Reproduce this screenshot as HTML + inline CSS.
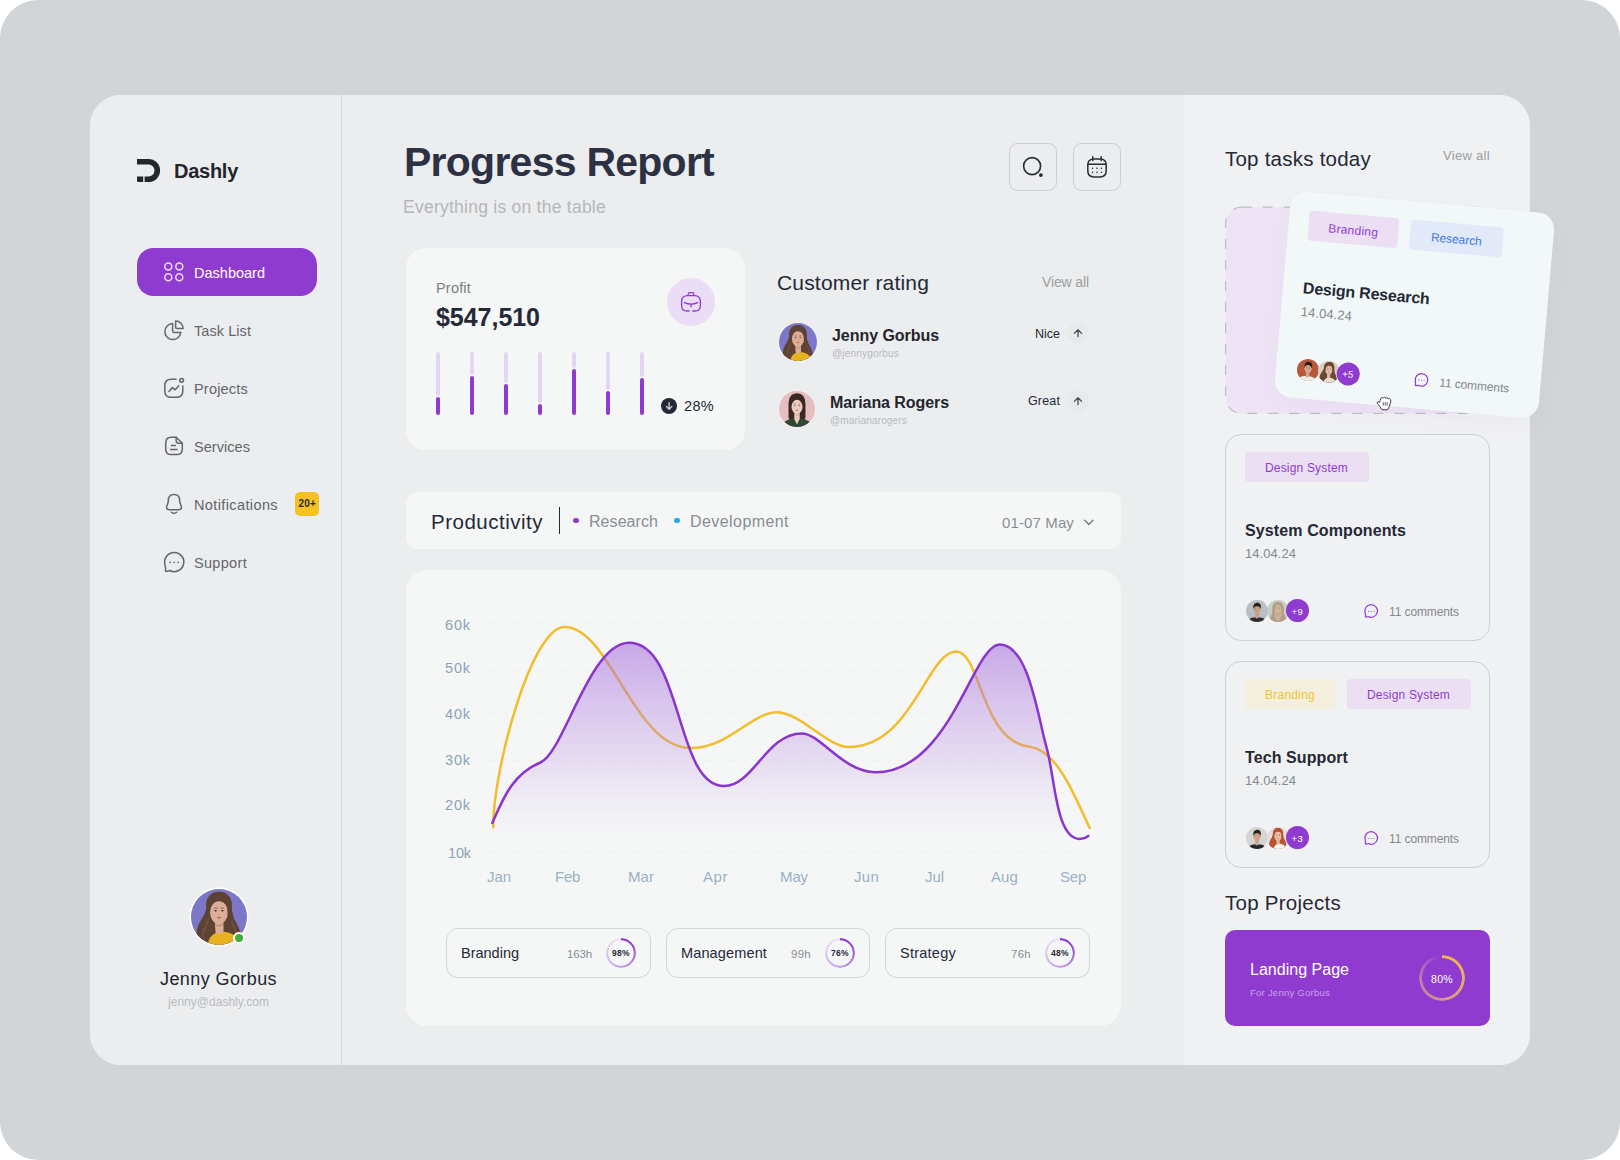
<!DOCTYPE html>
<html lang="en"><head><meta charset="utf-8"><title>Dashly - Progress Report</title>
<style>
*{box-sizing:border-box;margin:0;padding:0}
html,body{width:1620px;height:1160px;overflow:hidden;background:#fff}
body{font-family:"Liberation Sans",sans-serif;position:relative}
.a{position:absolute}
.t{position:absolute;white-space:nowrap;display:block}
#bg{left:0;top:0;width:1620px;height:1160px;border-radius:38px;background:#d2d5d8}
#panel{left:90px;top:95px;width:1440px;height:970px;border-radius:31px;background:#ecedef;overflow:hidden}
#side{left:0;top:0;width:252px;height:970px;background:#ecedef;border-right:1px solid #d8dadc}
#right{left:1094px;top:0;width:346px;height:970px;background:#f0f1f3}
.card{background:#f5f7f7}
.btn{width:47.6px;height:47.6px;border:1.2px solid #cbcdcf;border-radius:8.5px;background:#ecedef}
.pill{height:50px;width:205px;border:1px solid #d4d6d8;border-radius:12px;background:#f5f7f7}
.tcard{width:265px;height:207px;border:1px solid #cdcfd2;border-radius:16px}
.tag{height:30px;border-radius:4px}
.av{border-radius:50%;overflow:hidden}
</style></head>
<body>

<div class="a" id="bg"></div>
<div class="a" id="panel">
  <div class="a" id="side"></div>
  <div class="a" id="right"></div>
</div>

<!-- sidebar -->
<div class="a" style="left:137px;top:248px;width:180px;height:48px;border-radius:16.5px;background:#8f3bcf"></div>
<div class="a" style="left:295px;top:492px;width:24px;height:24px;border-radius:5px;background:#f5c123"></div>

<!-- header buttons -->
<div class="a btn" style="left:1009.2px;top:143.1px"></div>
<div class="a btn" style="left:1073.2px;top:143.1px"></div>

<!-- profit card -->
<div class="a card" style="left:406px;top:247.5px;width:339px;height:202.5px;border-radius:20px"></div>
<div class="a" style="left:667px;top:278px;width:48px;height:48px;border-radius:50%;background:#ecddf6"></div>
<div class="a" style="left:661px;top:398px;width:16px;height:16px;border-radius:50%;background:#252836"></div>

<!-- rating arrows -->
<div class="a" style="left:1067px;top:322px;width:22px;height:22px;border-radius:50%;background:#e7e9eb"></div>
<div class="a" style="left:1067px;top:390px;width:22px;height:22px;border-radius:50%;background:#e7e9eb"></div>

<!-- productivity bar -->
<div class="a card" style="left:406px;top:492px;width:715px;height:56.5px;border-radius:12px"></div>
<div class="a" style="left:558.5px;top:507px;width:1.5px;height:27px;background:#252836"></div>
<div class="a" style="left:573px;top:517.5px;width:5.5px;height:5.5px;border-radius:50%;background:#8f3bcf"></div>
<div class="a" style="left:674px;top:517.5px;width:5.5px;height:5.5px;border-radius:50%;background:#2aa9dc"></div>

<!-- chart card -->
<div class="a card" style="left:406px;top:569.5px;width:715px;height:456px;border-radius:21px"></div>
<div class="a pill" style="left:446.2px;top:928px;width:204.5px"></div>
<div class="a pill" style="left:666.2px;top:928px;width:203.6px"></div>
<div class="a pill" style="left:885.4px;top:928px;width:204.6px"></div>

<!-- right: task cards -->
<svg class="a" style="left:1220px;top:202px" width="275" height="216" viewBox="0 0 275 216"><rect x="5.6" y="5.2" width="263.8" height="206.2" rx="16" fill="#eee4f6" stroke="#bcbec2" stroke-width="1.2" stroke-dasharray="10 11"/></svg>
<div class="a tcard" style="left:1225px;top:434px"></div>
<div class="a tag" style="left:1245px;top:452px;width:124px;background:#eadff3"></div>
<div class="a tcard" style="left:1225px;top:661px"></div>
<div class="a tag" style="left:1245px;top:679px;width:90px;background:#f3efdc"></div>
<div class="a tag" style="left:1347px;top:679px;width:124px;background:#eadff3"></div>

<!-- top projects card -->
<div class="a" style="left:1225px;top:930px;width:265px;height:95.6px;border-radius:10px;background:#8f3bcf"></div>

<div class="a" style="left:436px;top:352px;width:4px;height:44px;border-radius:2px;background:#e4d5f3"></div>
<div class="a" style="left:436px;top:397px;width:4px;height:17.5px;border-radius:2px;background:#8f3bcf"></div>
<div class="a" style="left:470px;top:352px;width:4px;height:23px;border-radius:2px;background:#e4d5f3"></div>
<div class="a" style="left:470px;top:376px;width:4px;height:38.5px;border-radius:2px;background:#8f3bcf"></div>
<div class="a" style="left:504px;top:352px;width:4px;height:31px;border-radius:2px;background:#e4d5f3"></div>
<div class="a" style="left:504px;top:384px;width:4px;height:30.5px;border-radius:2px;background:#8f3bcf"></div>
<div class="a" style="left:538px;top:352px;width:4px;height:51px;border-radius:2px;background:#e4d5f3"></div>
<div class="a" style="left:538px;top:404px;width:4px;height:10.5px;border-radius:2px;background:#8f3bcf"></div>
<div class="a" style="left:572px;top:352px;width:4px;height:16px;border-radius:2px;background:#e4d5f3"></div>
<div class="a" style="left:572px;top:369px;width:4px;height:45.5px;border-radius:2px;background:#8f3bcf"></div>
<div class="a" style="left:606px;top:352px;width:4px;height:38px;border-radius:2px;background:#e4d5f3"></div>
<div class="a" style="left:606px;top:391px;width:4px;height:23.5px;border-radius:2px;background:#8f3bcf"></div>
<div class="a" style="left:640px;top:352px;width:4px;height:25px;border-radius:2px;background:#e4d5f3"></div>
<div class="a" style="left:640px;top:378px;width:4px;height:36.5px;border-radius:2px;background:#8f3bcf"></div>
<svg class="a" style="left:0;top:0" width="1620" height="1160" viewBox="0 0 1620 1160">
<defs><linearGradient id="ga" x1="0" y1="640" x2="0" y2="832" gradientUnits="userSpaceOnUse">
<stop offset="0" stop-color="#a56bdb" stop-opacity=".58"/><stop offset=".55" stop-color="#b888e2" stop-opacity=".3"/><stop offset="1" stop-color="#c9a6ea" stop-opacity="0.02"/></linearGradient>
<clipPath id="ca"><rect x="480" y="600" width="620" height="232"/></clipPath></defs>
<g stroke="#eaeced" stroke-width="1" stroke-dasharray="5 7"><line x1="490" x2="1086" y1="623.8" y2="623.8"/><line x1="490" x2="1086" y1="670" y2="670"/><line x1="490" x2="1086" y1="714" y2="714"/><line x1="490" x2="1086" y1="760.3" y2="760.3"/><line x1="490" x2="1086" y1="806.3" y2="806.3"/><line x1="490" x2="1086" y1="852.5" y2="852.5"/></g>
<path d="M493.3,827.2 C492.3,773.9 530.8,626.9 564.6,626.9 C609.8,626.9 633.7,748.1 690.8,748.1 C728.7,748.1 751.9,712.2 776.6,712.2 C799.7,712.2 828.0,747.0 848.3,747.0 C912.1,747.0 927.0,651.5 956.2,651.5 C980.6,651.5 980.8,740.7 1029.4,746.8 C1058.1,750.4 1074.9,797.3 1089.7,828.0" fill="none" stroke="#f2bd2c" stroke-width="2.5" stroke-linecap="round" stroke-linejoin="round"/>
<path d="M492.3,823.0 C501.9,802.0 511.4,774.0 540.5,762.5 C563.6,753.2 589.7,642.8 628.9,642.8 C682.7,642.8 674.8,786.1 724.3,786.1 C752.8,786.1 767.0,733.4 801.5,733.4 C821.0,733.4 842.5,772.2 875.9,772.2 C950.2,772.2 973.0,644.5 999.7,644.5 C1028.8,644.5 1037.8,716.8 1046.7,748.1 C1054.9,776.6 1055.8,838.9 1079.6,838.9 C1083.6,838.9 1086.3,837.6 1088.3,835.9 L1088.3,850 L492.3,850Z" fill="url(#ga)" clip-path="url(#ca)"/>
<path d="M492.3,823.0 C501.9,802.0 511.4,774.0 540.5,762.5 C563.6,753.2 589.7,642.8 628.9,642.8 C682.7,642.8 674.8,786.1 724.3,786.1 C752.8,786.1 767.0,733.4 801.5,733.4 C821.0,733.4 842.5,772.2 875.9,772.2 C950.2,772.2 973.0,644.5 999.7,644.5 C1028.8,644.5 1037.8,716.8 1046.7,748.1 C1054.9,776.6 1055.8,838.9 1079.6,838.9 C1083.6,838.9 1086.3,837.6 1088.3,835.9" fill="none" stroke="#8a35cc" stroke-width="2.5" stroke-linecap="round" stroke-linejoin="round"/>
</svg>
<div class="a" style="left:606.0px;top:938.0px;width:30px;height:30px;border-radius:50%;background:conic-gradient(from 0deg,#8c38cc 0deg,#9446d1 50deg,#b585df 130deg,#cdb0ea 215deg,#e2d3f1 295deg,#efe8f6 360deg);-webkit-mask:radial-gradient(circle closest-side,transparent 12.3px,#000 13.100000000000001px);mask:radial-gradient(circle closest-side,transparent 12.3px,#000 13.100000000000001px)"></div>
<div class="a" style="left:825.0px;top:938.0px;width:30px;height:30px;border-radius:50%;background:conic-gradient(from 0deg,#8c38cc 0deg,#9446d1 50deg,#b585df 130deg,#cdb0ea 215deg,#e2d3f1 295deg,#efe8f6 360deg);-webkit-mask:radial-gradient(circle closest-side,transparent 12.3px,#000 13.100000000000001px);mask:radial-gradient(circle closest-side,transparent 12.3px,#000 13.100000000000001px)"></div>
<div class="a" style="left:1045.0px;top:938.0px;width:30px;height:30px;border-radius:50%;background:conic-gradient(from 0deg,#8c38cc 0deg,#9446d1 50deg,#b585df 130deg,#cdb0ea 215deg,#e2d3f1 295deg,#efe8f6 360deg);-webkit-mask:radial-gradient(circle closest-side,transparent 12.3px,#000 13.100000000000001px);mask:radial-gradient(circle closest-side,transparent 12.3px,#000 13.100000000000001px)"></div>
<div class="a" style="left:1419.0px;top:955.0px;width:46px;height:46px;border-radius:50%;background:conic-gradient(from 0deg,#f2bb45 0deg,#ebb060 70deg,#dc9c80 150deg,#cf8c93 200deg,#c07fae 260deg,#a55cc8 320deg,#8f3bcf 352deg,#8f3bcf 360deg);-webkit-mask:radial-gradient(circle closest-side,transparent 19.5px,#000 20.3px);mask:radial-gradient(circle closest-side,transparent 19.5px,#000 20.3px)"></div>
<svg class="a" style="left:0;top:0" width="1620" height="1160" viewBox="0 0 1620 1160"><path d="M137,161.8 H148.6 A8.7,8.7 0 0 1 148.6,179.2 H144.6" fill="none" stroke="#25272d" stroke-width="5.6"/>
<path d="M137,176.4 H143.2 V182 H138.2 Q137,182 137,180.8Z" fill="#25272d"/>
<circle cx="168.3" cy="266.6" r="3.5" fill="none" stroke="#f1dcff" stroke-width="1.5"/>
<circle cx="168.3" cy="277.2" r="3.5" fill="none" stroke="#f1dcff" stroke-width="1.5"/>
<circle cx="179.3" cy="266.6" r="3.5" fill="none" stroke="#f1dcff" stroke-width="1.5"/>
<circle cx="179.3" cy="277.2" r="3.5" fill="none" stroke="#f1dcff" stroke-width="1.5"/>
<g fill="none" stroke="#63666b" stroke-width="1.5" stroke-linecap="round" stroke-linejoin="round"><path d="M172.6,323.6 A8,8 0 1 0 180.8,332.6 H174.2 Q172.6,332.6 172.6,331 Z"/><path d="M175.6,321 A7.6,7.6 0 0 1 183.2,328.6 H177.2 Q175.6,328.6 175.6,327 Z"/><path d="M176,379.3 H171.2 Q164.8,379.3 164.8,385.7 V390.9 Q164.8,397.3 171.2,397.3 H176.4 Q182.8,397.3 182.8,390.9 V386"/><circle cx="181.6" cy="380.3" r="1.9"/><path d="M169,391.4 L172.3,387.6 L175.2,389.8 L178.8,385.8"/><path d="M176.2,437.2 H171.4 Q165.7,437.2 165.7,442.9 V448.9 Q165.7,454.6 171.4,454.6 H176.6 Q182.3,454.6 182.3,448.9 V443.3 Z"/><path d="M176.2,437.2 V440.8 Q176.2,443.3 178.7,443.3 H182.3"/><path d="M171.4,445.5 H175.4 M170.6,449.6 H177"/><path d="M174,494.6 C169.6,494.6 168.3,498 168.3,500.8 C168.3,504.2 166.5,505.4 166.5,507.3 C166.5,508.9 167.8,509.7 169.4,509.7 H178.6 C180.2,509.7 181.5,508.9 181.5,507.3 C181.5,505.4 179.7,504.2 179.7,500.8 C179.7,498 178.4,494.6 174,494.6Z"/><path d="M171.4,512.2 Q174,514.4 176.6,512.2"/></g>
<g fill="none" stroke="#63666b" stroke-width="1.5" stroke-linejoin="round" stroke-linecap="round"><path d="M169.69,570.48 A9.6,9.6 0 1 0 164.93,564.48 L165.75,569.01 Q164.31,571.89 167.67,571.22 Z"/><circle cx="170.17" cy="562.29" r="0.85" fill="#63666b" stroke="none"/><circle cx="174.20" cy="562.29" r="0.85" fill="#63666b" stroke="none"/><circle cx="178.23" cy="562.29" r="0.85" fill="#63666b" stroke="none"/></g>
<circle cx="1032.1" cy="166.1" r="8.5" fill="none" stroke="#2a2c31" stroke-width="1.6"/>
<circle cx="1040.9" cy="175.1" r="1.9" fill="#2a2c31"/>
<g fill="none" stroke="#2a2c31" stroke-width="1.5" stroke-linecap="round"><path d="M1094,158.9 H1100 Q1106.2,158.9 1106.2,165.1 V170.7 Q1106.2,176.9 1100,176.9 H1094 Q1087.8,176.9 1087.8,170.7 V165.1 Q1087.8,158.9 1094,158.9Z"/><path d="M1088,164.2 H1106 M1092.8,156.8 V160.6 M1101.2,156.8 V160.6"/></g><circle cx="1092.6" cy="168.3" r="0.8" fill="#2a2c31"/><circle cx="1097" cy="168.3" r="0.8" fill="#2a2c31"/><circle cx="1101.4" cy="168.3" r="0.8" fill="#2a2c31"/><circle cx="1092.6" cy="172.3" r="0.8" fill="#2a2c31"/><circle cx="1097" cy="172.3" r="0.8" fill="#2a2c31"/><circle cx="1101.4" cy="172.3" r="0.8" fill="#2a2c31"/>
<g fill="none" stroke="#8f3bcf" stroke-width="1.3" stroke-linecap="round" stroke-linejoin="round"><path d="M689.2,311 H687.2 Q681.6,311 681.6,305.4 V301.6 Q681.6,295.6 687.6,295.6 H694.4 Q700.4,295.6 700.4,301.6 V305.4 Q700.4,311 694.8,311 H692.8"/><path d="M687.8,295.4 L688.8,292.6 H693.2 L694.2,295.4"/><path d="M684.4,302.6 Q691,305.6 697.6,302.6 M691,304.4 V306.8"/></g>
<path d="M669.1,402.6 V409 M666.3,406.4 L669.1,409.2 L671.9,406.4" fill="none" stroke="#d5d6dc" stroke-width="1.3" stroke-linecap="round" stroke-linejoin="round"/>
<path d="M1078,336.6 V330 M1074.4,333.4 L1078,329.8 L1081.6,333.4" fill="none" stroke="#4a4d52" stroke-width="1.3" stroke-linecap="round" stroke-linejoin="round"/>
<path d="M1078,404.6 V398 M1074.4,401.4 L1078,397.8 L1081.6,401.4" fill="none" stroke="#4a4d52" stroke-width="1.3" stroke-linecap="round" stroke-linejoin="round"/>
<path d="M1084.6,520.2 L1088.8,524.4 L1093,520.2" fill="none" stroke="#7f8388" stroke-width="1.5" stroke-linecap="round" stroke-linejoin="round"/>
<g fill="none" stroke="#8f3bcf" stroke-width="1.2" stroke-linejoin="round" stroke-linecap="round"><path d="M1368.24,616.56 A6.3,6.3 0 1 0 1365.11,612.63 L1365.66,615.60 Q1364.71,617.49 1366.92,617.05 Z"/><circle cx="1368.55" cy="611.19" r="0.55" fill="#8f3bcf" stroke="none"/><circle cx="1371.20" cy="611.19" r="0.55" fill="#8f3bcf" stroke="none"/><circle cx="1373.85" cy="611.19" r="0.55" fill="#8f3bcf" stroke="none"/></g>
<g fill="none" stroke="#8f3bcf" stroke-width="1.2" stroke-linejoin="round" stroke-linecap="round"><path d="M1368.24,843.56 A6.3,6.3 0 1 0 1365.11,839.63 L1365.66,842.60 Q1364.71,844.49 1366.92,844.05 Z"/><circle cx="1368.55" cy="838.19" r="0.55" fill="#8f3bcf" stroke="none"/><circle cx="1371.20" cy="838.19" r="0.55" fill="#8f3bcf" stroke="none"/><circle cx="1373.85" cy="838.19" r="0.55" fill="#8f3bcf" stroke="none"/></g></svg>
<svg class="a av" style="left:191.0px;top:889.0px;box-shadow:0 0 0 1.5px #fff;" width="56" height="56" viewBox="0 0 100 100"><rect width="100" height="100" fill="#7c77c7"/><path d="M50,5 C33,5 26,19 27,33 C27,45 19,52 14,63 C9,75 8,90 12,100 H90 C92,88 88,72 81,61 C75,51 73,43 73,33 C74,19 67,5 50,5Z" fill="#5e4233"/><path d="M30,100 C31,86 40,78 53,76 C69,76 85,83 91,100Z" fill="#e8b11f"/><path d="M42,56 H58 V76 Q52,84 44,78Z" fill="#dcae97"/><path d="M42,60 Q50,68 58,60 V64 Q50,72 42,64Z" fill="#000" opacity=".12"/><ellipse cx="50" cy="42" rx="16" ry="20" fill="#dcae97"/><path d="M50,9 C40,11 32.5,20 32.5,33 C32.5,46 30,56 26,68 C21,80 22,92 27,100 H12 C8,88 10,74 15,62 C20,52 27,45 27,33 C26,19 33,5 50,5 C67,5 74,19 73,33 C73,43 75,51 81,61 C86,70 84,82 78,88 C80,76 72,66 68,56 C65,48 65,40 65,32 C65,19 59,10 50,8Z" fill="#5e4233"/><path d="M22,70 C20,80 22,90 26,98 M32,52 C28,62 24,70 24,80 M72,58 C76,66 80,72 80,82" stroke="#8a6a55" stroke-width="2" fill="none" opacity=".55"/><g fill="#2b1d18"><ellipse cx="44" cy="39" rx="2" ry="1.3"/><ellipse cx="56" cy="39" rx="2" ry="1.3"/></g><path d="M40.5,34.5 Q44,33 47.5,34.5 M52.5,34.5 Q56,33 59.5,34.5" stroke="#3a2720" stroke-width="1.1" fill="none" opacity=".8"/><path d="M48.5,46 Q50,47.2 51.5,46" stroke="#000" stroke-width="1" fill="none" opacity=".22"/><ellipse cx="50" cy="51.5" rx="4" ry="1.4" fill="#b5655a"/></svg>
<div class="a" style="left:233px;top:932px;width:12px;height:12px;border-radius:50%;background:#3fae3a;border:2px solid #fff"></div>
<svg class="a av" style="left:778.9px;top:322.9px;box-shadow:0 0 0 1px #f4f4f6;" width="38" height="38" viewBox="0 0 100 100"><rect width="100" height="100" fill="#7c77c7"/><path d="M50,5 C33,5 26,19 27,33 C27,45 19,52 14,63 C9,75 8,90 12,100 H90 C92,88 88,72 81,61 C75,51 73,43 73,33 C74,19 67,5 50,5Z" fill="#5e4233"/><path d="M30,100 C31,86 40,78 53,76 C69,76 85,83 91,100Z" fill="#e8b11f"/><path d="M42,56 H58 V76 Q52,84 44,78Z" fill="#dcae97"/><path d="M42,60 Q50,68 58,60 V64 Q50,72 42,64Z" fill="#000" opacity=".12"/><ellipse cx="50" cy="42" rx="16" ry="20" fill="#dcae97"/><path d="M50,9 C40,11 32.5,20 32.5,33 C32.5,46 30,56 26,68 C21,80 22,92 27,100 H12 C8,88 10,74 15,62 C20,52 27,45 27,33 C26,19 33,5 50,5 C67,5 74,19 73,33 C73,43 75,51 81,61 C86,70 84,82 78,88 C80,76 72,66 68,56 C65,48 65,40 65,32 C65,19 59,10 50,8Z" fill="#5e4233"/><path d="M22,70 C20,80 22,90 26,98 M32,52 C28,62 24,70 24,80 M72,58 C76,66 80,72 80,82" stroke="#8a6a55" stroke-width="2" fill="none" opacity=".55"/><g fill="#2b1d18"><ellipse cx="44" cy="39" rx="2" ry="1.3"/><ellipse cx="56" cy="39" rx="2" ry="1.3"/></g><path d="M40.5,34.5 Q44,33 47.5,34.5 M52.5,34.5 Q56,33 59.5,34.5" stroke="#3a2720" stroke-width="1.1" fill="none" opacity=".8"/><path d="M48.5,46 Q50,47.2 51.5,46" stroke="#000" stroke-width="1" fill="none" opacity=".22"/><ellipse cx="50" cy="51.5" rx="4" ry="1.4" fill="#b5655a"/></svg>
<svg class="a av" style="left:778.9px;top:391.1px;box-shadow:0 0 0 1px #f6eeee;" width="36" height="36" viewBox="0 0 100 100"><rect width="100" height="100" fill="#e5bebf"/><path d="M50,7 C34,7 27,20 27,36 V74 C27,80 34,84 40,84 H60 C66,84 73,80 73,74 V36 C73,20 66,7 50,7Z" fill="#3a2a25"/><path d="M8,100 C10,84 28,76 50,76 C72,76 90,84 92,100Z" fill="#2c4832"/><path d="M42.5,58 H57.5 V78 L50,93 L42.5,78Z" fill="#ecccbc"/><path d="M43,62 Q50,70 57,62 V66 Q50,74 43,66Z" fill="#000" opacity=".1"/><ellipse cx="50" cy="44" rx="15.5" ry="19.5" fill="#ecccbc"/><path d="M50,10 C40,12 34,21 33.5,36 V72 H27 V36 C27,20 34,7 50,7 C66,7 73,20 73,36 V72 H66.5 V36 C66,21 60,12 50,10Z" fill="#3a2a25"/><g fill="#2b1d18"><ellipse cx="44" cy="41" rx="2" ry="1.3"/><ellipse cx="56" cy="41" rx="2" ry="1.3"/></g><path d="M40.5,36.5 Q44,35 47.5,36.5 M52.5,36.5 Q56,35 59.5,36.5" stroke="#3a2720" stroke-width="1.1" fill="none" opacity=".8"/><path d="M48.5,48 Q50,49.2 51.5,48" stroke="#000" stroke-width="1" fill="none" opacity=".22"/><ellipse cx="50" cy="53.5" rx="4" ry="1.4" fill="#b5655a"/></svg>
<svg class="a av" style="left:1245.9px;top:599.7px;" width="22" height="22" viewBox="0 0 100 100"><rect width="100" height="100" fill="#b9bfc2"/><path d="M8,100 C10,84 28,78 50,78 C72,78 90,84 92,100Z" fill="#2b2d30"/><path d="M42,58 H58 V80 Q50,88 42,80Z" fill="#c9a58c"/><path d="M42,62 Q50,70 58,62 V66 Q50,74 42,66Z" fill="#000" opacity=".12"/><ellipse cx="50" cy="44" rx="15" ry="19" fill="#c9a58c"/><path d="M34,42 C30,22 40,13 52,13 C64,13 71,23 66,42 C65,33 60,28 50,28 C40,28 35,33 34,42Z" fill="#26221f"/><ellipse cx="34.5" cy="45" rx="2" ry="4" fill="#c9a58c"/><ellipse cx="65.5" cy="45" rx="2" ry="4" fill="#c9a58c"/><g fill="#2b1d18"><ellipse cx="44" cy="41" rx="2" ry="1.3"/><ellipse cx="56" cy="41" rx="2" ry="1.3"/></g><path d="M40.5,36.5 Q44,35 47.5,36.5 M52.5,36.5 Q56,35 59.5,36.5" stroke="#3a2720" stroke-width="1.1" fill="none" opacity=".8"/><path d="M48.5,48 Q50,49.2 51.5,48" stroke="#000" stroke-width="1" fill="none" opacity=".22"/><ellipse cx="50" cy="53.5" rx="4" ry="1.4" fill="#b5655a"/></svg>
<svg class="a av" style="left:1266.7px;top:599.7px;" width="22" height="22" viewBox="0 0 100 100"><rect width="100" height="100" fill="#c3cfc7"/><path d="M50,8 C28,8 22,30 24,50 C25,68 12,80 8,100 H92 C88,80 75,68 76,50 C78,30 72,8 50,8Z" fill="#b59c85"/><ellipse cx="50" cy="44" rx="13.5" ry="17.5" fill="#dbb8a0"/><path d="M34,46 C34,28 42,22 50,22 C58,22 66,28 66,46 C63,34 57,28 50,28 C43,28 37,34 34,46Z" fill="#c9b29b"/><path d="M35,50 C37,62 43,66 50,66 C57,66 63,62 65,50 C68,70 64,88 50,94 C36,88 32,70 35,50Z" fill="#c9b29b"/><g fill="#2b1d18"><ellipse cx="44" cy="41" rx="2" ry="1.3"/><ellipse cx="56" cy="41" rx="2" ry="1.3"/></g><path d="M40.5,36.5 Q44,35 47.5,36.5 M52.5,36.5 Q56,35 59.5,36.5" stroke="#3a2720" stroke-width="1.1" fill="none" opacity=".8"/><path d="M48.5,48 Q50,49.2 51.5,48" stroke="#000" stroke-width="1" fill="none" opacity=".22"/><ellipse cx="50" cy="53.5" rx="4" ry="1.4" fill="#b5655a"/></svg>
<div class="a" style="left:1285.8px;top:599.2px;width:23px;height:23px;border-radius:50%;background:#8f3bcf"></div>
<svg class="a av" style="left:1245.9px;top:826.7px;" width="22" height="22" viewBox="0 0 100 100"><rect width="100" height="100" fill="#d5d5d3"/><path d="M8,100 C10,84 28,78 50,78 C72,78 90,84 92,100Z" fill="#26282a"/><path d="M42,58 H58 V80 Q50,88 42,80Z" fill="#cfa88f"/><path d="M42,62 Q50,70 58,62 V66 Q50,74 42,66Z" fill="#000" opacity=".12"/><ellipse cx="50" cy="44" rx="15" ry="19" fill="#cfa88f"/><path d="M34,42 C30,22 40,13 52,13 C64,13 71,23 66,42 C65,33 60,28 50,28 C40,28 35,33 34,42Z" fill="#2a211b"/><ellipse cx="34.5" cy="45" rx="2" ry="4" fill="#cfa88f"/><ellipse cx="65.5" cy="45" rx="2" ry="4" fill="#cfa88f"/><g fill="#2b1d18"><ellipse cx="44" cy="41" rx="2" ry="1.3"/><ellipse cx="56" cy="41" rx="2" ry="1.3"/></g><path d="M40.5,36.5 Q44,35 47.5,36.5 M52.5,36.5 Q56,35 59.5,36.5" stroke="#3a2720" stroke-width="1.1" fill="none" opacity=".8"/><path d="M48.5,48 Q50,49.2 51.5,48" stroke="#000" stroke-width="1" fill="none" opacity=".22"/><ellipse cx="50" cy="53.5" rx="4" ry="1.4" fill="#b5655a"/></svg>
<svg class="a av" style="left:1266.7px;top:826.7px;" width="22" height="22" viewBox="0 0 100 100"><rect width="100" height="100" fill="#e3dcd8"/><path d="M50,5 C33,5 26,19 27,33 C27,45 19,52 14,63 C9,75 8,90 12,100 H90 C92,88 88,72 81,61 C75,51 73,43 73,33 C74,19 67,5 50,5Z" fill="#b8532f"/><path d="M30,100 C31,86 40,78 53,76 C69,76 85,83 91,100Z" fill="#f4f4f2"/><path d="M42,56 H58 V76 Q52,84 44,78Z" fill="#e6c0ab"/><path d="M42,60 Q50,68 58,60 V64 Q50,72 42,64Z" fill="#000" opacity=".12"/><ellipse cx="50" cy="42" rx="16" ry="20" fill="#e6c0ab"/><path d="M50,9 C40,11 32.5,20 32.5,33 C32.5,46 30,56 26,68 C21,80 22,92 27,100 H12 C8,88 10,74 15,62 C20,52 27,45 27,33 C26,19 33,5 50,5 C67,5 74,19 73,33 C73,43 75,51 81,61 C86,70 84,82 78,88 C80,76 72,66 68,56 C65,48 65,40 65,32 C65,19 59,10 50,8Z" fill="#b8532f"/><path d="M22,70 C20,80 22,90 26,98 M32,52 C28,62 24,70 24,80 M72,58 C76,66 80,72 80,82" stroke="#d0704a" stroke-width="2" fill="none" opacity=".55"/><g fill="#2b1d18"><ellipse cx="44" cy="39" rx="2" ry="1.3"/><ellipse cx="56" cy="39" rx="2" ry="1.3"/></g><path d="M40.5,34.5 Q44,33 47.5,34.5 M52.5,34.5 Q56,33 59.5,34.5" stroke="#3a2720" stroke-width="1.1" fill="none" opacity=".8"/><path d="M48.5,46 Q50,47.2 51.5,46" stroke="#000" stroke-width="1" fill="none" opacity=".22"/><ellipse cx="50" cy="51.5" rx="4" ry="1.4" fill="#b5655a"/></svg>
<div class="a" style="left:1285.8px;top:826.2px;width:23px;height:23px;border-radius:50%;background:#8f3bcf"></div>
<span class="t" style="left:174.00px;top:159.20px;font-size:20px;line-height:24px;font-weight:700;color:#23252b;letter-spacing:-0.266px;">Dashly</span>
<span class="t" style="left:194.00px;top:264.50px;font-size:14.5px;line-height:17px;font-weight:400;color:#fff;letter-spacing:0.007px;">Dashboard</span>
<span class="t" style="left:194.00px;top:322.50px;font-size:14.5px;line-height:17px;font-weight:400;color:#63666b;letter-spacing:0.064px;">Task List</span>
<span class="t" style="left:194.00px;top:380.50px;font-size:14.5px;line-height:17px;font-weight:400;color:#63666b;letter-spacing:0.201px;">Projects</span>
<span class="t" style="left:194.00px;top:438.50px;font-size:14.5px;line-height:17px;font-weight:400;color:#63666b;letter-spacing:0.049px;">Services</span>
<span class="t" style="left:194.00px;top:496.50px;font-size:14.5px;line-height:17px;font-weight:400;color:#63666b;letter-spacing:0.386px;">Notifications</span>
<span class="t" style="left:194.00px;top:554.50px;font-size:14.5px;line-height:17px;font-weight:400;color:#63666b;letter-spacing:0.315px;">Support</span>
<span class="t" style="left:298.50px;top:498.20px;font-size:10px;line-height:12px;font-weight:700;color:#2b2b2b;letter-spacing:0.177px;">20+</span>
<span class="t" style="left:160.00px;top:967.70px;font-size:18px;line-height:22px;font-weight:400;color:#23252b;letter-spacing:0.411px;">Jenny Gorbus</span>
<span class="t" style="left:168.00px;top:995.20px;font-size:12px;line-height:14px;font-weight:400;color:#b9bcc0;letter-spacing:0.021px;">jenny@dashly.com</span>
<span class="t" style="left:404.00px;top:137.70px;font-size:41px;line-height:49px;font-weight:700;color:#2c3143;letter-spacing:-0.751px;">Progress Report</span>
<span class="t" style="left:403.00px;top:196.70px;font-size:17.5px;line-height:21px;font-weight:400;color:#b4b7bb;letter-spacing:0.249px;">Everything is on the table</span>
<span class="t" style="left:436.00px;top:279.70px;font-size:14.5px;line-height:17px;font-weight:400;color:#7b7e83;letter-spacing:0.193px;">Profit</span>
<span class="t" style="left:436.00px;top:302.20px;font-size:25px;line-height:30px;font-weight:700;color:#252836;letter-spacing:-0.035px;">$547,510</span>
<span class="t" style="left:684.00px;top:397.70px;font-size:14.5px;line-height:17px;font-weight:400;color:#252836;letter-spacing:0.323px;">28%</span>
<span class="t" style="left:777.00px;top:269.70px;font-size:21px;line-height:25px;font-weight:400;color:#252836;letter-spacing:0.174px;">Customer rating</span>
<span class="t" style="left:1042.00px;top:273.70px;font-size:14px;line-height:17px;font-weight:400;color:#9b9ea3;letter-spacing:-0.125px;">View all</span>
<span class="t" style="left:832.00px;top:325.70px;font-size:16px;line-height:19px;font-weight:700;color:#23252b;letter-spacing:-0.048px;">Jenny Gorbus</span>
<span class="t" style="left:832.00px;top:348.20px;font-size:10px;line-height:12px;font-weight:400;color:#b7babe;letter-spacing:0.197px;">@jennygorbus</span>
<span class="t" style="left:1035.00px;top:326.70px;font-size:12.5px;line-height:15px;font-weight:400;color:#252836;letter-spacing:-0.004px;">Nice</span>
<span class="t" style="left:830.00px;top:392.70px;font-size:16px;line-height:19px;font-weight:700;color:#23252b;letter-spacing:-0.075px;">Mariana Rogers</span>
<span class="t" style="left:830.00px;top:415.20px;font-size:10px;line-height:12px;font-weight:400;color:#b7babe;letter-spacing:0.170px;">@marianarogers</span>
<span class="t" style="left:1028.00px;top:393.70px;font-size:12.5px;line-height:15px;font-weight:400;color:#252836;letter-spacing:0.147px;">Great</span>
<span class="t" style="left:431.00px;top:508.70px;font-size:20.5px;line-height:25px;font-weight:400;color:#252836;letter-spacing:0.503px;">Productivity</span>
<span class="t" style="left:589.00px;top:511.70px;font-size:16px;line-height:19px;font-weight:400;color:#8a8e93;letter-spacing:0.064px;">Research</span>
<span class="t" style="left:690.00px;top:511.70px;font-size:16px;line-height:19px;font-weight:400;color:#8a8e93;letter-spacing:0.429px;">Development</span>
<span class="t" style="left:1002.00px;top:514.20px;font-size:15px;line-height:18px;font-weight:400;color:#8a8e93;letter-spacing:0.125px;">01-07 May</span>
<span class="t" style="left:445.00px;top:616.70px;font-size:14.5px;line-height:17px;font-weight:400;color:#8da2b6;letter-spacing:0.870px;">60k</span>
<span class="t" style="left:445.00px;top:659.70px;font-size:14.5px;line-height:17px;font-weight:400;color:#8da2b6;letter-spacing:0.870px;">50k</span>
<span class="t" style="left:445.00px;top:705.70px;font-size:14.5px;line-height:17px;font-weight:400;color:#8da2b6;letter-spacing:0.870px;">40k</span>
<span class="t" style="left:445.00px;top:751.70px;font-size:14.5px;line-height:17px;font-weight:400;color:#8da2b6;letter-spacing:0.870px;">30k</span>
<span class="t" style="left:445.00px;top:796.70px;font-size:14.5px;line-height:17px;font-weight:400;color:#8da2b6;letter-spacing:0.870px;">20k</span>
<span class="t" style="left:448.00px;top:844.70px;font-size:14.5px;line-height:17px;font-weight:400;color:#8da2b6;letter-spacing:-0.130px;">10k</span>
<span class="t" style="left:487.00px;top:868.20px;font-size:15px;line-height:18px;font-weight:400;color:#9bb0c4;letter-spacing:-0.062px;">Jan</span>
<span class="t" style="left:555.00px;top:868.20px;font-size:15px;line-height:18px;font-weight:400;color:#9bb0c4;letter-spacing:-0.286px;">Feb</span>
<span class="t" style="left:628.00px;top:868.20px;font-size:15px;line-height:18px;font-weight:400;color:#9bb0c4;letter-spacing:0.052px;">Mar</span>
<span class="t" style="left:703.00px;top:868.20px;font-size:15px;line-height:18px;font-weight:400;color:#9bb0c4;letter-spacing:0.552px;">Apr</span>
<span class="t" style="left:780.00px;top:868.20px;font-size:15px;line-height:18px;font-weight:400;color:#9bb0c4;letter-spacing:-0.115px;">May</span>
<span class="t" style="left:854.00px;top:868.20px;font-size:15px;line-height:18px;font-weight:400;color:#9bb0c4;letter-spacing:0.271px;">Jun</span>
<span class="t" style="left:925.00px;top:868.20px;font-size:15px;line-height:18px;font-weight:400;color:#9bb0c4;letter-spacing:-0.062px;">Jul</span>
<span class="t" style="left:991.00px;top:868.20px;font-size:15px;line-height:18px;font-weight:400;color:#9bb0c4;letter-spacing:0.099px;">Aug</span>
<span class="t" style="left:1060.00px;top:868.20px;font-size:15px;line-height:18px;font-weight:400;color:#9bb0c4;letter-spacing:-0.234px;">Sep</span>
<span class="t" style="left:461.00px;top:944.70px;font-size:14.5px;line-height:17px;font-weight:400;color:#252836;letter-spacing:-0.006px;">Branding</span>
<span class="t" style="left:567.00px;top:946.50px;font-size:11.5px;line-height:14px;font-weight:400;color:#8a8e93;letter-spacing:-0.148px;">163h</span>
<span class="t" style="left:612.00px;top:947.80px;font-size:8.5px;line-height:10px;font-weight:700;color:#252836;letter-spacing:0.328px;">98%</span>
<span class="t" style="left:681.00px;top:944.70px;font-size:14.5px;line-height:17px;font-weight:400;color:#252836;letter-spacing:0.136px;">Management</span>
<span class="t" style="left:791.00px;top:946.50px;font-size:11.5px;line-height:14px;font-weight:400;color:#8a8e93;letter-spacing:0.271px;">99h</span>
<span class="t" style="left:831.00px;top:947.80px;font-size:8.5px;line-height:10px;font-weight:700;color:#252836;letter-spacing:0.328px;">76%</span>
<span class="t" style="left:900.00px;top:944.70px;font-size:14.5px;line-height:17px;font-weight:400;color:#252836;letter-spacing:0.250px;">Strategy</span>
<span class="t" style="left:1011.00px;top:946.50px;font-size:11.5px;line-height:14px;font-weight:400;color:#8a8e93;letter-spacing:0.271px;">76h</span>
<span class="t" style="left:1051.00px;top:947.80px;font-size:8.5px;line-height:10px;font-weight:700;color:#252836;letter-spacing:0.328px;">48%</span>
<span class="t" style="left:1225.00px;top:145.70px;font-size:20.5px;line-height:25px;font-weight:400;color:#252836;letter-spacing:0.236px;">Top tasks today</span>
<span class="t" style="left:1443.00px;top:148.20px;font-size:13px;line-height:16px;font-weight:400;color:#9b9ea3;letter-spacing:0.305px;">View all</span>
<span class="t" style="left:1265.00px;top:461.20px;font-size:12px;line-height:14px;font-weight:400;color:#8f3bcf;letter-spacing:0.177px;">Design System</span>
<span class="t" style="left:1245.00px;top:521.10px;font-size:16px;line-height:19px;font-weight:700;color:#252836;letter-spacing:0.109px;">System Components</span>
<span class="t" style="left:1245.00px;top:546.20px;font-size:13px;line-height:16px;font-weight:400;color:#85888d;letter-spacing:0.049px;">14.04.24</span>
<span class="t" style="left:1291.50px;top:605.70px;font-size:9.5px;line-height:11px;font-weight:400;color:#fff;letter-spacing:0.328px;">+9</span>
<span class="t" style="left:1389.00px;top:605.40px;font-size:12px;line-height:14px;font-weight:400;color:#85888d;letter-spacing:-0.104px;">11 comments</span>
<span class="t" style="left:1265.00px;top:688.20px;font-size:12px;line-height:14px;font-weight:400;color:#efc335;letter-spacing:0.244px;">Branding</span>
<span class="t" style="left:1367.00px;top:688.20px;font-size:12px;line-height:14px;font-weight:400;color:#8f3bcf;letter-spacing:0.177px;">Design System</span>
<span class="t" style="left:1245.00px;top:748.10px;font-size:16px;line-height:19px;font-weight:700;color:#252836;letter-spacing:0.090px;">Tech Support</span>
<span class="t" style="left:1245.00px;top:773.20px;font-size:13px;line-height:16px;font-weight:400;color:#85888d;letter-spacing:0.049px;">14.04.24</span>
<span class="t" style="left:1291.50px;top:832.70px;font-size:9.5px;line-height:11px;font-weight:400;color:#fff;letter-spacing:0.328px;">+3</span>
<span class="t" style="left:1389.00px;top:832.40px;font-size:12px;line-height:14px;font-weight:400;color:#85888d;letter-spacing:-0.104px;">11 comments</span>
<span class="t" style="left:1225.00px;top:889.70px;font-size:20.5px;line-height:25px;font-weight:400;color:#252836;letter-spacing:0.266px;">Top Projects</span>
<span class="t" style="left:1250.00px;top:959.70px;font-size:16px;line-height:19px;font-weight:400;color:#fff;letter-spacing:0.020px;">Landing Page</span>
<span class="t" style="left:1250.00px;top:986.70px;font-size:9.5px;line-height:11px;font-weight:400;color:#c9a2ea;letter-spacing:0.247px;">For Jenny Gorbus</span>
<span class="t" style="left:1431.00px;top:973.00px;font-size:10.5px;line-height:13px;font-weight:400;color:#fff;letter-spacing:0.328px;">80%</span>
<div class="a" style="left:1282px;top:202px;width:265px;height:206px;border-radius:17px;background:#f2f8f8;transform:rotate(5deg);transform-origin:50% 50%;box-shadow:0 8px 24px rgba(90,70,130,.04)"><div class="a tag" style="left:20px;top:18px;width:90px;background:#ecdff4"></div>
<div class="a tag" style="left:122px;top:18px;width:93px;background:#e2e9f8"></div>
<svg class="a av" style="left:21.0px;top:166.0px;" width="22" height="22" viewBox="0 0 100 100"><rect width="100" height="100" fill="#b8573a"/><path d="M8,100 C10,84 28,78 50,78 C72,78 90,84 92,100Z" fill="#efeeea"/><path d="M42,58 H58 V80 Q50,88 42,80Z" fill="#d7a98f"/><path d="M42,62 Q50,70 58,62 V66 Q50,74 42,66Z" fill="#000" opacity=".12"/><ellipse cx="50" cy="44" rx="15" ry="19" fill="#d7a98f"/><path d="M34,42 C30,22 40,13 52,13 C64,13 71,23 66,42 C65,33 60,28 50,28 C40,28 35,33 34,42Z" fill="#2a1c17"/><ellipse cx="34.5" cy="45" rx="2" ry="4" fill="#d7a98f"/><ellipse cx="65.5" cy="45" rx="2" ry="4" fill="#d7a98f"/><g fill="#2b1d18"><ellipse cx="44" cy="41" rx="2" ry="1.3"/><ellipse cx="56" cy="41" rx="2" ry="1.3"/></g><path d="M40.5,36.5 Q44,35 47.5,36.5 M52.5,36.5 Q56,35 59.5,36.5" stroke="#3a2720" stroke-width="1.1" fill="none" opacity=".8"/><path d="M48.5,48 Q50,49.2 51.5,48" stroke="#000" stroke-width="1" fill="none" opacity=".22"/><ellipse cx="50" cy="53.5" rx="4" ry="1.4" fill="#b5655a"/></svg>
<svg class="a av" style="left:41.7px;top:166.0px;" width="22" height="22" viewBox="0 0 100 100"><rect width="100" height="100" fill="#dccdc4"/><path d="M50,5 C33,5 26,19 27,33 C27,45 19,52 14,63 C9,75 8,90 12,100 H90 C92,88 88,72 81,61 C75,51 73,43 73,33 C74,19 67,5 50,5Z" fill="#6b4634"/><path d="M30,100 C31,86 40,78 53,76 C69,76 85,83 91,100Z" fill="#e9dcd3"/><path d="M42,56 H58 V76 Q52,84 44,78Z" fill="#e3bca6"/><path d="M42,60 Q50,68 58,60 V64 Q50,72 42,64Z" fill="#000" opacity=".12"/><ellipse cx="50" cy="42" rx="16" ry="20" fill="#e3bca6"/><path d="M50,9 C40,11 32.5,20 32.5,33 C32.5,46 30,56 26,68 C21,80 22,92 27,100 H12 C8,88 10,74 15,62 C20,52 27,45 27,33 C26,19 33,5 50,5 C67,5 74,19 73,33 C73,43 75,51 81,61 C86,70 84,82 78,88 C80,76 72,66 68,56 C65,48 65,40 65,32 C65,19 59,10 50,8Z" fill="#6b4634"/><path d="M22,70 C20,80 22,90 26,98 M32,52 C28,62 24,70 24,80 M72,58 C76,66 80,72 80,82" stroke="#8a6450" stroke-width="2" fill="none" opacity=".55"/><g fill="#2b1d18"><ellipse cx="44" cy="39" rx="2" ry="1.3"/><ellipse cx="56" cy="39" rx="2" ry="1.3"/></g><path d="M40.5,34.5 Q44,33 47.5,34.5 M52.5,34.5 Q56,33 59.5,34.5" stroke="#3a2720" stroke-width="1.1" fill="none" opacity=".8"/><path d="M48.5,46 Q50,47.2 51.5,46" stroke="#000" stroke-width="1" fill="none" opacity=".22"/><ellipse cx="50" cy="51.5" rx="4" ry="1.4" fill="#b5655a"/></svg>
<div class="a" style="left:60.5px;top:165.5px;width:23px;height:23px;border-radius:50%;background:#8f3bcf"></div>
<svg class="a" style="left:0;top:0" width="265" height="206" viewBox="0 0 265 206"><g fill="none" stroke="#8f3bcf" stroke-width="1.2" stroke-linejoin="round" stroke-linecap="round"><path d="M143.04,182.56 A6.3,6.3 0 1 0 139.91,178.63 L140.46,181.60 Q139.51,183.49 141.72,183.05 Z"/><circle cx="143.35" cy="177.19" r="0.55" fill="#8f3bcf" stroke="none"/><circle cx="146.00" cy="177.19" r="0.55" fill="#8f3bcf" stroke="none"/><circle cx="148.65" cy="177.19" r="0.55" fill="#8f3bcf" stroke="none"/></g></svg>
<span class="t" style="left:40.00px;top:27.20px;font-size:12px;line-height:14px;font-weight:400;color:#8f3bcf;letter-spacing:0.244px;">Branding</span>
<span class="t" style="left:143.00px;top:27.20px;font-size:12px;line-height:14px;font-weight:400;color:#3f7be0;letter-spacing:-0.045px;">Research</span>
<span class="t" style="left:20.00px;top:86.20px;font-size:16px;line-height:19px;font-weight:700;color:#252836;letter-spacing:-0.190px;">Design Research</span>
<span class="t" style="left:20.00px;top:111.70px;font-size:13px;line-height:16px;font-weight:400;color:#85888d;letter-spacing:0.049px;">14.04.24</span>
<span class="t" style="left:66.50px;top:171.70px;font-size:9.5px;line-height:11px;font-weight:400;color:#fff;letter-spacing:0.328px;">+5</span>
<span class="t" style="left:164.00px;top:171.40px;font-size:12px;line-height:14px;font-weight:400;color:#85888d;letter-spacing:-0.104px;">11 comments</span></div>
<svg class="a" style="left:1376px;top:396px" width="16" height="15" viewBox="0 0 16 15">
<path d="M3.6,6.6 C2.6,5.6 1.4,5.4 1.2,6.4 C1,7.4 2.4,8.6 3.4,9.8 C4.4,11 5,13 6.2,13.8 L11.6,13.8 C12.6,12.4 13.2,10.6 13.8,9 C14.6,7 15,5 14.6,3.6 C14.2,2.4 12.8,2.2 12.2,3 C12,1.6 10.4,1.2 9.8,2.4 C9.4,1 7.6,0.9 7.2,2.2 C6.6,1.2 5,1.4 4.8,2.8 C4.4,3.6 4,5 3.6,6.6Z" fill="#fff" stroke="#3a3c40" stroke-width="1" stroke-linejoin="round"/>
<path d="M7.3,6.2 V9.6 M9.2,6.2 V9.6 M11.1,6.2 V9.6" stroke="#3a3c40" stroke-width=".8" fill="none"/></svg>
</body></html>
